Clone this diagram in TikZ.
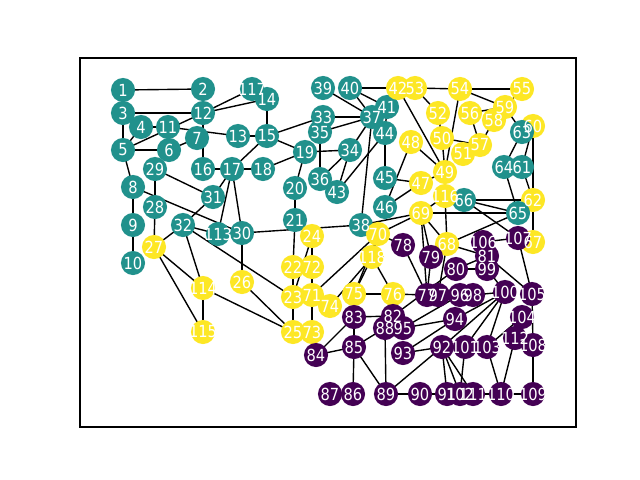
\documentclass[tikz,border=0pt]{standalone}
\usepackage{fontspec}
\newfontfamily\lblfont[FakeStretch=0.88]{DejaVu Sans}
\definecolor{cT}{HTML}{21918C}
\definecolor{cY}{HTML}{FDE725}
\definecolor{cP}{HTML}{440154}
\pgfdeclarelayer{bg}
\pgfdeclarelayer{fg}
\pgfsetlayers{bg,main,fg}
\tikzset{
  vnode/.style={circle, minimum size=0.6025cm, inner sep=0pt, draw=none},
  lbl/.style={text=white, inner sep=0pt, font=\lblfont\fontsize{11.85}{12}\selectfont},
  edge/.style={draw=black, line width=0.99pt},
  frame/.style={draw=black, line width=0.79pt}
}
\begin{document}
\begin{tikzpicture}[x=0.025cm,y=-0.025cm]
\useasboundingbox (0,0) rectangle (640,480);
\draw[frame] (80,58) rectangle (576,427);
\def\nodelist{1/123/90/T,2/203/89/T,3/123/113/T,4/141/127/T,5/123/150/T,6/169/150/T,7/197/138/T,8/133/187/T,9/133/225/T,10/133/263/T,11/168/127/T,12/203/113/T,13/238/136/T,117/252/89/T,14/267/99/T,15/267/136/T,16/203/169/T,17/232/169/T,18/263/169/T,19/305/152/T,20/295/188/T,21/295/220/T,22/293/267/Y,23/293/297/Y,24/312/236/Y,25/293/332/Y,26/242/282/Y,27/154/247/Y,28/155/207/T,29/155/169/T,30/242/233/T,31/213/197/T,32/183/225/T,33/323/117/T,34/350/150/T,35/320/132/T,36/320/179/T,37/372/117/T,38/361/225/T,39/323/88/T,40/350/88/T,41/387/107/T,42/398/88/Y,43/337/192/T,44/385/133/T,45/385/178/T,46/385/207/T,47/421/183/Y,48/411/142/Y,49/445/172/Y,50/442/138/Y,51/463/154/Y,52/438/113/Y,53/415/88/Y,54/460/89/Y,55/522/89/Y,56/470/113/Y,57/480/145/Y,58/494/120/Y,59/505/107/Y,60/533/126/Y,61/522/167/T,62/533/200/Y,63/522/132/T,64/504/167/T,65/518/213/T,66/464/200/T,67/533/242/Y,68/447/244/Y,69/421/213/Y,70/378/234/Y,71/312/295/Y,72/312/267/Y,73/312/332/Y,74/330/306/Y,75/354/294/Y,76/393/294/Y,77/427/295/P,78/403/245/P,79/431/257/P,80/456/269/P,81/487/256/P,82/393/316/P,83/354/317/P,84/316/355/P,85/354/347/P,86/353/394/P,87/330/394/P,88/385/328/P,89/386/394/P,90/420/394/P,91/447/394/P,92/442/347/P,93/403/353/P,94/455/319/P,95/403/328/P,96/460/295/P,97/438/295/P,98/473/295/P,99/487/269/P,100/505/292/P,101/465/347/P,102/460/394/P,103/487/347/P,104/522/317/P,105/532/294/P,106/483/242/P,107/518/238/P,108/533/345/P,109/533/394/P,110/501/394/P,111/473/394/P,112/515/338/P,113/218/234/T,114/203/288/Y,115/203/332/Y,116/445/196/Y,118/372/257/Y}
\foreach \i/\x/\y/\c in \nodelist {
  \node[vnode, fill=c\c] (n\i) at (\x,\y) {};
}
\begin{pgfonlayer}{bg}
\foreach \a/\b in {1/2,1/3,3/12,3/5,4/5,4/11,5/12,5/6,6/7,12/16,11/13,12/117,12/14,117/14,14/15,13/15,15/17,16/17,17/18,17/113,17/31,17/30,5/8,8/9,9/10,8/30,29/28,28/27,29/31,31/32,32/113,32/27,32/23,32/114,27/114,114/25,27/115,114/115,30/26,26/25,30/38,2/12,
15/33,15/19,18/19,19/34,19/20,20/21,35/36,34/36,34/43,37/34,44/43,37/38,39/37,40/37,40/41,40/42,33/37,35/37,44/45,45/47,46/47,48/46,42/49,53/52,53/54,48/49,33/35,36/43,41/44,37/41,42/53,
54/55,54/59,56/59,54/49,56/57,58/57,50/57,59/63,63/64,60/61,60/62,62/67,61/62,64/65,66/62,66/65,66/107,69/65,68/65,116/68,116/69,49/116,47/49,106/107,107/105,81/105,55/59,58/59,50/49,52/50,51/57,63/60,64/61,
38/69,70/69,21/22,22/23,23/25,24/72,24/23,72/71,71/73,70/71,118/74,118/75,70/75,118/76,75/76,76/77,78/77,70/78,69/77,79/77,75/83,83/82,83/84,83/85,84/85,85/88,85/86,86/87,85/89,88/89,89/90,90/91,89/92,92/93,95/94,93/94,92/91,92/102,92/111,101/102,110/111,110/109,103/110,112/110,108/109,105/108,104/103,100/103,100/101,100/92,100/94,98/100,99/100,80/99,68/81,80/81,69/79,69/68,76/82,82/95,82/88,80/82,95/96,68/97,38/70,118/70,25/73,71/74,104/112,81/99,106/81}
  \draw[edge] (n\a.center) -- (n\b.center);
\end{pgfonlayer}
\begin{pgfonlayer}{fg}
\foreach \i/\x/\y/\c in \nodelist {
  \node[lbl] (t\i) at (n\i) {\i};
}
\end{pgfonlayer}
\end{tikzpicture}
\end{document}
